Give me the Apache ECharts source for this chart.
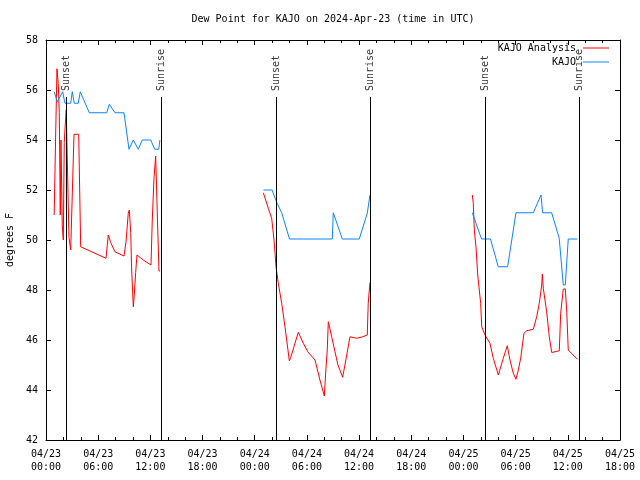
<!DOCTYPE html>
<html><head><meta charset="utf-8">
<script src="https://cdn.jsdelivr.net/npm/echarts@6/dist/echarts.min.js"></script>
<style>html,body{margin:0;padding:0;background:#fff}#c{width:640px;height:480px}</style>
</head><body><div id="c"></div>
<script>
// time = hours since 2024-04-23 00:00 UTC ; null = gap in the record
const analysisTimes = [0.94,1.10,1.26,1.41,1.53,1.64,1.72,1.87,1.99,2.10,2.21,2.33,2.50,2.64,2.84,3.02,3.22,3.76,3.99,6.90,7.16,7.28,7.44,7.93,8.97,9.20,9.46,9.58,9.74,9.85,10.04,10.15,10.31,10.46,11.19,12.07,12.22,12.42,12.61,12.80,12.99,13.11,
  18,
  24.99,25.56,25.95,26.22,26.45,26.71,27.10,27.48,27.75,27.98,28.14,29.01,29.59,30.09,30.93,31.50,32.00,32.19,32.34,32.46,32.85,33.23,33.57,34.11,34.58,34.95,35.73,36.42,36.94,37.05,37.25,
  43,
  49.02,49.13,49.25,49.44,49.64,49.82,49.98,50.10,50.48,51.05,51.43,52.01,52.58,53.04,53.35,53.73,54.04,54.31,54.58,54.96,55.27,56.03,56.42,56.72,57.00,57.07,57.18,57.57,57.87,58.15,59.02,59.18,59.48,59.71,59.87,60.05,60.25,61.10];
const analysisValues = [51.0,54.0,56.85,56.25,55.1,51.0,54.0,50.6,50.0,53.9,54.6,55.2,52.4,50.1,49.6,49.6,54.23,54.23,49.73,49.27,50.2,50.27,49.9,49.53,49.36,49.93,51.07,51.2,50.3,48.8,47.33,47.8,48.7,49.4,49.2,49.0,50.8,52.5,53.36,51.0,48.76,48.76,
  null,
  51.89,51.27,50.87,50.0,48.93,48.27,47.47,46.53,45.8,45.17,45.3,46.31,45.87,45.53,45.2,44.4,43.76,44.87,45.6,46.73,46.13,45.53,45.0,44.51,45.4,46.13,46.07,46.13,46.2,47.47,48.3,
  null,
  51.8,51.47,50.4,49.73,48.6,48.0,47.47,46.53,46.2,45.87,45.27,44.6,45.27,45.77,45.2,44.67,44.43,44.8,45.27,46.27,46.37,46.43,46.93,47.47,48.2,48.64,48.07,47.13,46.13,45.5,45.57,47.07,48.04,48.04,47.2,45.6,45.53,45.23];
const obsTimes = [0.95,1.30,1.92,2.18,2.84,3.02,3.25,3.71,3.94,4.98,6.98,7.28,7.93,8.97,9.54,10.04,10.61,11.07,12.04,12.50,12.96,13.10,
  18,
  25.0,26.0,26.5,27.1,28.0,32.92,33.03,34.07,36.02,36.94,37.25,
  43,
  49.02,50.08,51.11,52.0,53.08,54.04,56.03,56.92,57.10,58.14,59.01,59.48,59.71,60.05,61.10];
const obsValues = [55.93,55.53,55.93,55.47,55.47,55.93,55.47,55.47,55.93,55.09,55.09,55.43,55.09,55.09,53.63,54.0,53.63,54.0,54.0,53.63,53.63,54.0,
  null,
  52.0,52.0,51.53,51.09,50.04,50.04,51.09,50.04,50.04,51.07,51.8,
  null,
  51.09,50.04,50.04,48.93,48.93,51.09,51.09,51.8,51.09,51.09,50.07,48.2,48.2,50.04,50.04];
const eventTimes = [2.38,13.22,26.48,37.29,50.51,61.32];
const eventNames = ['Sunset','Sunrise','Sunset','Sunrise','Sunset','Sunrise'];
const eventLineTop = 55.72, eventLabelAt = 55.92;
const dayLabels = ['04/23','04/24','04/25'];

const font = 'DejaVu Sans Mono';
const pair = (ts, vs) => ts.map((t, i) => [t, vs[i]]);
const xFmt = v => dayLabels[Math.floor(v / 24)] + '\n' + String(v % 24).padStart(2, '0') + ':00';

const chart = echarts.init(document.getElementById('c'), null, {renderer: 'canvas'});
const axisX = (pos, labels) => ({
  type: 'value', position: pos, min: 0, max: 66, interval: 6,
  axisLine: {show: true, onZero: false, lineStyle: {color: '#000', width: 1}},
  axisTick: {show: true, inside: true, length: 5, lineStyle: {color: '#000'}},
  minorTick: {show: true, splitNumber: 3, length: 3, lineStyle: {color: '#000'}},
  splitLine: {show: false},
  axisLabel: labels ? {show: true, formatter: xFmt, fontFamily: font, fontSize: 10, color: '#000', lineHeight: 13, margin: 8, showMaxLabel: true, showMinLabel: true} : {show: false}
});
const axisY = (pos, labels) => ({
  type: 'value', position: pos, min: 42, max: 58, interval: 2,
  axisLine: {show: true, onZero: false, lineStyle: {color: '#000', width: 1}},
  axisTick: {show: true, inside: true, length: 5, lineStyle: {color: '#000'}},
  splitLine: {show: false},
  axisLabel: labels ? {show: true, fontFamily: font, fontSize: 10, color: '#000', margin: 8} : {show: false},
  name: labels ? 'degrees F' : '', nameLocation: 'middle', nameGap: 31, nameRotate: 90,
  nameTextStyle: {fontFamily: font, fontSize: 10, color: '#000'}
});

chart.setOption({
  animation: false,
  backgroundColor: '#fff',
  title: {text: 'Dew Point for KAJO on 2024-Apr-23 (time in UTC)', left: 333, textAlign: 'center', top: 14, padding: 0,
    textStyle: {fontFamily: font, fontSize: 10, fontWeight: 'normal', color: '#000'}},
  grid: {left: 46, right: 20, top: 40, bottom: 40, containLabel: false, outerBoundsMode: 'none'},
  xAxis: [axisX('bottom', true), axisX('top', false)],
  yAxis: [axisY('left', true), axisY('right', false)],
  legend: [
    {data: ['KAJO Analysis'], right: 31, top: 43, align: 'right', orient: 'vertical', padding: 0, itemWidth: 26, itemHeight: 1, icon: 'rect', itemGap: 0,
      textStyle: {fontFamily: font, fontSize: 10, color: '#000', padding: [0, 2, 0, 0]}},
    {data: ['KAJO'], right: 31, top: 57, align: 'right', orient: 'vertical', padding: 0, itemWidth: 26, itemHeight: 1, icon: 'rect', itemGap: 0,
      textStyle: {fontFamily: font, fontSize: 10, color: '#000', padding: [0, 2, 0, 0]}}
  ],
  series: [
    {name: 'KAJO Analysis', type: 'line', data: pair(analysisTimes, analysisValues), symbol: 'none', connectNulls: false,
      lineStyle: {color: '#ff0000', width: 1}, itemStyle: {color: '#ff0000'}, z: 2},
    {name: 'KAJO', type: 'line', data: pair(obsTimes, obsValues), symbol: 'none', connectNulls: false,
      lineStyle: {color: '#0a84ff', width: 1}, itemStyle: {color: '#0a84ff'}, z: 3},
    {name: 'events', type: 'scatter', symbolSize: 0, silent: true, z: 4,
      data: eventTimes.map((t, i) => ({name: eventNames[i], value: [t, eventLabelAt]})),
      label: {show: true, position: 'inside', rotate: 90, align: 'left', verticalAlign: 'middle', formatter: p => p.name,
        fontFamily: font, fontSize: 10, color: '#000', offset: [1, 0]},
      markLine: {silent: true, symbol: 'none', animation: false, label: {show: false},
        lineStyle: {color: '#000', width: 1, type: 'solid'},
        data: eventTimes.map(t => [{coord: [t, 42]}, {coord: [t, eventLineTop]}])}
    }
  ]
});
</script></body></html>
